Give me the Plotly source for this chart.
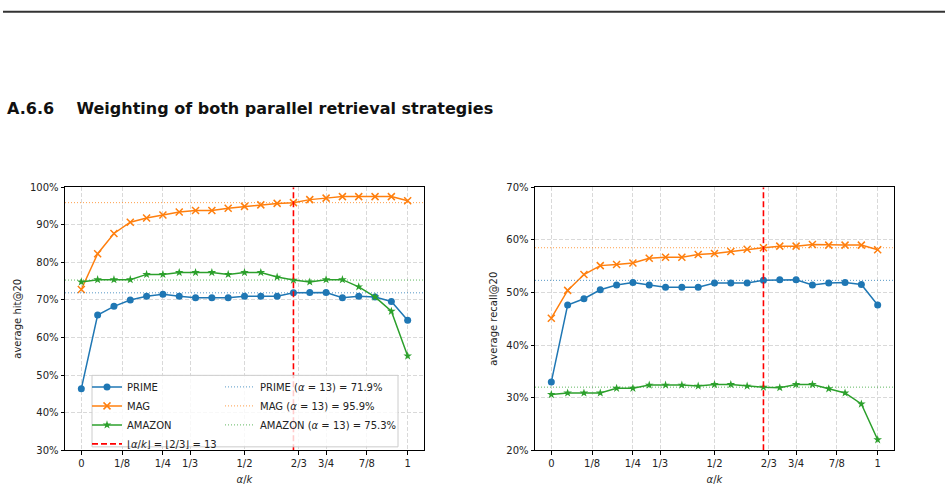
import plotly.graph_objects as go

W, H = 948, 493
K = 20
ALPHA_SEL = 13
alpha = list(range(K + 1))
x_frac = [a / K for a in alpha]

# left: average hit@20 (%)
hit_prime = [46.4, 66.0, 68.3, 70.0, 71.0, 71.5, 71.0, 70.6, 70.6, 70.6, 71.0,
             71.0, 71.0, 71.9, 72.0, 72.0, 70.6, 71.0, 70.8, 69.6, 64.6]
hit_mag = [72.8, 82.3, 87.7, 90.7, 91.8, 92.6, 93.4, 93.8, 93.8, 94.4, 94.9,
           95.3, 95.7, 95.9, 96.7, 97.1, 97.5, 97.5, 97.5, 97.5, 96.4]
hit_amazon = [74.8, 75.4, 75.4, 75.4, 76.8, 76.8, 77.3, 77.3, 77.3, 76.8, 77.3,
              77.3, 76.1, 75.3, 74.8, 75.4, 75.4, 73.5, 70.8, 67.0, 55.1]

# right: average recall@20 (%)
rec_prime = [33.0, 47.6, 48.8, 50.5, 51.4, 51.9, 51.4, 51.0, 51.0, 51.0, 51.8,
             51.8, 51.8, 52.3, 52.4, 52.4, 51.4, 51.8, 51.9, 51.5, 47.6]
rec_mag = [45.1, 50.4, 53.4, 55.1, 55.3, 55.6, 56.5, 56.7, 56.7, 57.2, 57.4,
           57.8, 58.2, 58.5, 58.8, 58.8, 59.1, 59.0, 59.0, 59.0, 58.1]
rec_amazon = [30.6, 30.9, 30.9, 30.9, 31.8, 31.8, 32.4, 32.4, 32.4, 32.2, 32.5,
              32.5, 32.2, 32.0, 31.9, 32.5, 32.5, 31.7, 30.9, 28.8, 22.0]

tick_vals = [0, 1/8, 1/4, 1/3, 1/2, 2/3, 3/4, 7/8, 1]
tick_text = ["0", "1/8", "1/4", "1/3", "1/2", "2/3", "3/4", "7/8", "1"]
x_range = [-0.05, 1.05]
left_yrange = [30, 100]
right_yrange = [20, 70]

names = ["PRIME", "MAG", "AMAZON"]
colors = ["#1f77b4", "#ff7f0e", "#2ca02c"]
symbols = ["circle", "x-thin", "star"]

FONT = "DejaVu Sans"

fig = go.Figure()


def add_panel(xa, ya, series, yrange, show_legend):
    for name, vals, col, sym in zip(names, series, colors, symbols):
        marker = dict(symbol=sym, size=7, color=col)
        if sym == "x-thin":
            marker = dict(symbol=sym, size=7, color=col, line=dict(color=col, width=1.5))
        if sym == "star":
            marker["size"] = 6.5
        fig.add_trace(go.Scatter(
            x=x_frac, y=vals, mode="lines+markers", name=name,
            line=dict(color=col, width=1.5), marker=marker,
            xaxis=xa, yaxis=ya, showlegend=show_legend, legend="legend",
        ))
    for name, vals, col in zip(names, series, colors):
        val = vals[ALPHA_SEL]
        fig.add_trace(go.Scatter(
            x=x_range, y=[val, val], mode="lines",
            name=f"{name} (<i>α</i> = {ALPHA_SEL}) = {val:.1f}%",
            line=dict(color=col, width=1, dash="1px,2px"), opacity=0.75,
            xaxis=xa, yaxis=ya, showlegend=show_legend, legend="legend2",
        ))
    fig.add_trace(go.Scatter(
        x=[ALPHA_SEL / K, ALPHA_SEL / K], y=yrange, mode="lines",
        name="⌊<i>α</i>/<i>k</i>⌋ = ⌊2/3⌋ = 13",
        line=dict(color="#ff0000", width=1.6, dash="6px,3px"),
        xaxis=xa, yaxis=ya, showlegend=show_legend, legend="legend",
    ))


add_panel("x", "y", [hit_prime, hit_mag, hit_amazon], left_yrange, True)
add_panel("x2", "y2", [rec_prime, rec_mag, rec_amazon], right_yrange, False)

y_dom = [1 - 454.5 / H, 1 - 186 / H]
axis_common = dict(
    showline=True, linecolor="#000", linewidth=1, mirror=True,
    ticks="outside", ticklen=3.5, tickwidth=0.8, tickcolor="#000",
    showgrid=True, gridcolor="#d9d9d9", gridwidth=0.8, griddash="4px,2px",
    zeroline=False, tickfont=dict(family=FONT, size=10, color="#222"),
)

LEG_TOP = 375
fig.update_layout(
    width=W, height=H, margin=dict(l=0, r=0, t=0, b=0),
    paper_bgcolor="white", plot_bgcolor="white",
    font=dict(family=FONT, size=10, color="#222"),
    xaxis=dict(domain=[65 / W, 424 / W], range=x_range, tickvals=tick_vals, ticktext=tick_text,
               title=dict(text="<i>α</i>/<i>k</i>", standoff=8, font=dict(size=10)), **axis_common),
    yaxis=dict(domain=y_dom, range=left_yrange, dtick=10, ticksuffix="%",
               title=dict(text="average hit@20", standoff=6, font=dict(size=10)), **axis_common),
    xaxis2=dict(domain=[535 / W, 894 / W], range=x_range, tickvals=tick_vals, ticktext=tick_text,
                anchor="y2",
                title=dict(text="<i>α</i>/<i>k</i>", standoff=8, font=dict(size=10)), **axis_common),
    yaxis2=dict(domain=y_dom, range=right_yrange, dtick=10, ticksuffix="%", anchor="x2",
                title=dict(text="average recall@20", standoff=6, font=dict(size=10)), **axis_common),
    legend=dict(x=87 / W, y=1 - LEG_TOP / H, xanchor="left", yanchor="top",
                bgcolor="rgba(0,0,0,0)", font=dict(family=FONT, size=10, color="#222"),
                tracegroupgap=0, itemwidth=30),
    legend2=dict(x=220 / W, y=1 - LEG_TOP / H, xanchor="left", yanchor="top",
                 bgcolor="rgba(0,0,0,0)", font=dict(family=FONT, size=10, color="#222"),
                 tracegroupgap=0, itemwidth=30),
    showlegend=True,
    shapes=[
        dict(type="line", xref="paper", yref="paper", x0=3 / W, x1=945 / W,
             y0=1 - 7 / H, y1=1 - 7 / H, line=dict(color="#333", width=2)),
        dict(type="rect", xref="paper", yref="paper", x0=92 / W, x1=398 / W,
             y0=1 - 451 / H, y1=1 - 378 / H, line=dict(color="#cccccc", width=1),
             fillcolor="rgba(255,255,255,0.8)", layer="above"),
    ],
    annotations=[
        dict(text="<b>A.6.6    Weighting of both parallel retrieval strategies</b>",
             xref="paper", yref="paper", x=5 / W, y=1 - 106 / H, xanchor="left", yanchor="middle",
             showarrow=False, font=dict(family=FONT, size=16, color="#111")),
    ],
)

fig.write_html("out.html")
